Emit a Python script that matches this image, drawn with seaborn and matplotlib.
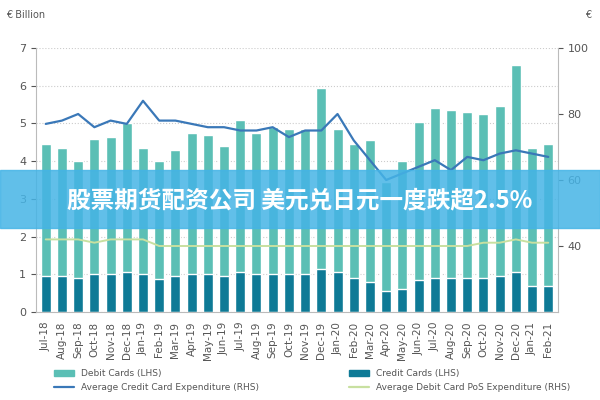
import numpy as np
import pandas as pd
import matplotlib.pyplot as plt
import seaborn as sns
from matplotlib.patches import Rectangle
from matplotlib.lines import Line2D

months = ['Jul-18', 'Aug-18', 'Sep-18', 'Oct-18', 'Nov-18', 'Dec-18', 'Jan-19', 'Feb-19',
          'Mar-19', 'Apr-19', 'May-19', 'Jun-19', 'Jul-19', 'Aug-19', 'Sep-19', 'Oct-19',
          'Nov-19', 'Dec-19', 'Jan-20', 'Feb-20', 'Mar-20', 'Apr-20', 'May-20', 'Jun-20',
          'Jul-20', 'Aug-20', 'Sep-20', 'Oct-20', 'Nov-20', 'Dec-20', 'Jan-21', 'Feb-21']
total_cards = [4.45, 4.35, 4.0, 4.6, 4.65, 5.0, 4.35, 4.0, 4.3, 4.75, 4.7, 4.4, 5.1, 4.75,
               4.9, 4.85, 4.85, 5.95, 4.85, 4.45, 4.55, 3.45, 4.0, 5.05, 5.4, 5.35, 5.3,
               5.25, 5.45, 6.55, 4.35, 4.45]
credit_cards = [0.95, 0.95, 0.9, 1.0, 1.0, 1.05, 1.0, 0.88, 0.95, 1.0, 1.0, 0.95, 1.05, 1.0,
                1.0, 1.0, 1.0, 1.15, 1.05, 0.9, 0.8, 0.55, 0.6, 0.85, 0.9, 0.9, 0.9, 0.9,
                0.95, 1.05, 0.7, 0.7]
avg_credit = [77, 78, 80, 76, 78, 77, 84, 78, 78, 77, 76, 76, 75, 75, 76, 73, 75, 75, 80,
              72, 66, 60, 62, 64, 66, 63, 67, 66, 68, 69, 68, 67]
avg_debit_pos = [42, 42, 42, 41, 42, 42, 42, 40, 40, 40, 40, 40, 40, 40, 40, 40, 40, 40,
                 40, 40, 40, 40, 40, 40, 40, 40, 40, 41, 41, 42, 41, 41]

df = pd.DataFrame({'month': months, 'total': total_cards, 'credit': credit_cards,
                   'avg_credit': avg_credit, 'avg_debit': avg_debit_pos})
df['x'] = np.arange(len(df))

sns.set_style('white')
plt.rcParams['font.family'] = ['DejaVu Sans', 'Noto Sans CJK SC', 'Noto Sans CJK JP']
fig, ax = plt.subplots(figsize=(6, 4), dpi=100)
fig.subplots_adjust(left=0.06, right=0.93, top=0.88, bottom=0.22)

light = '#5bbfb5'
dark = '#0e7a96'
sns.barplot(data=df, x='month', y='total', color=light, width=0.62, ax=ax, saturation=1)
sns.barplot(data=df, x='month', y='credit', color=dark, width=0.62, ax=ax, saturation=1)
ax.set_ylim(0, 7)
ax.set_xlim(-0.6, len(df) - 0.4)
ax.set_yticks(range(8))
ax.grid(axis='y', linestyle=':', color='#cccccc')
ax.set_xlabel('')
ax.set_ylabel('')
ax.tick_params(axis='x', rotation=90, labelsize=7.5, colors='#555555')
ax.tick_params(axis='y', labelsize=8, colors='#555555')
for s in ['top', 'right']:
    ax.spines[s].set_visible(False)
ax.spines['left'].set_color('#bbbbbb')
ax.spines['bottom'].set_color('#bbbbbb')

ax2 = ax.twinx()
sns.lineplot(data=df, x='x', y='avg_credit', color='#3a78b8', lw=1.6, ax=ax2)
sns.lineplot(data=df, x='x', y='avg_debit', color='#c8e0a0', lw=1.4, ax=ax2)
ax2.set_ylim(20, 100)
ax2.set_yticks([40, 60, 80, 100])
ax2.set_ylabel('')
ax2.tick_params(axis='y', labelsize=8, colors='#555555')
for s in ['top', 'left', 'bottom']:
    ax2.spines[s].set_visible(False)
ax2.spines['right'].set_color('#bbbbbb')

fig.text(0.01, 0.955, '€ Billion', fontsize=7, color='#555555')
fig.text(0.975, 0.955, '€', fontsize=7, color='#555555')

handles = [Rectangle((0, 0), 1, 1, color=light), Rectangle((0, 0), 1, 1, color=dark),
           Line2D([], [], color='#3a78b8', lw=1.6), Line2D([], [], color='#c8e0a0', lw=1.6)]
labels = ['Debit Cards (LHS)', 'Credit Cards (LHS)',
          'Average Credit Card Expenditure (RHS)', 'Average Debit Card PoS Expenditure (RHS)']
fig.legend([handles[0], handles[2], handles[1], handles[3]],
           [labels[0], labels[2], labels[1], labels[3]],
           loc='lower center', ncol=2, fontsize=6.5, frameon=False,
           bbox_to_anchor=(0.52, 0.0), columnspacing=10, handlelength=2.2,
           labelcolor='#555555')

fig.patches.append(Rectangle((0, 0.43), 1, 0.145, transform=fig.transFigure,
                             color='#45b4e6', alpha=0.85, zorder=5))
fig.text(0.5, 0.5, '股票期货配资公司 美元兑日元一度跌超2.5%', ha='center', va='center',
         fontsize=17, color='white', fontweight='bold',
         fontfamily=['Noto Sans CJK SC', 'Noto Sans CJK JP'], zorder=6)

fig.savefig('out.png', dpi=100)
